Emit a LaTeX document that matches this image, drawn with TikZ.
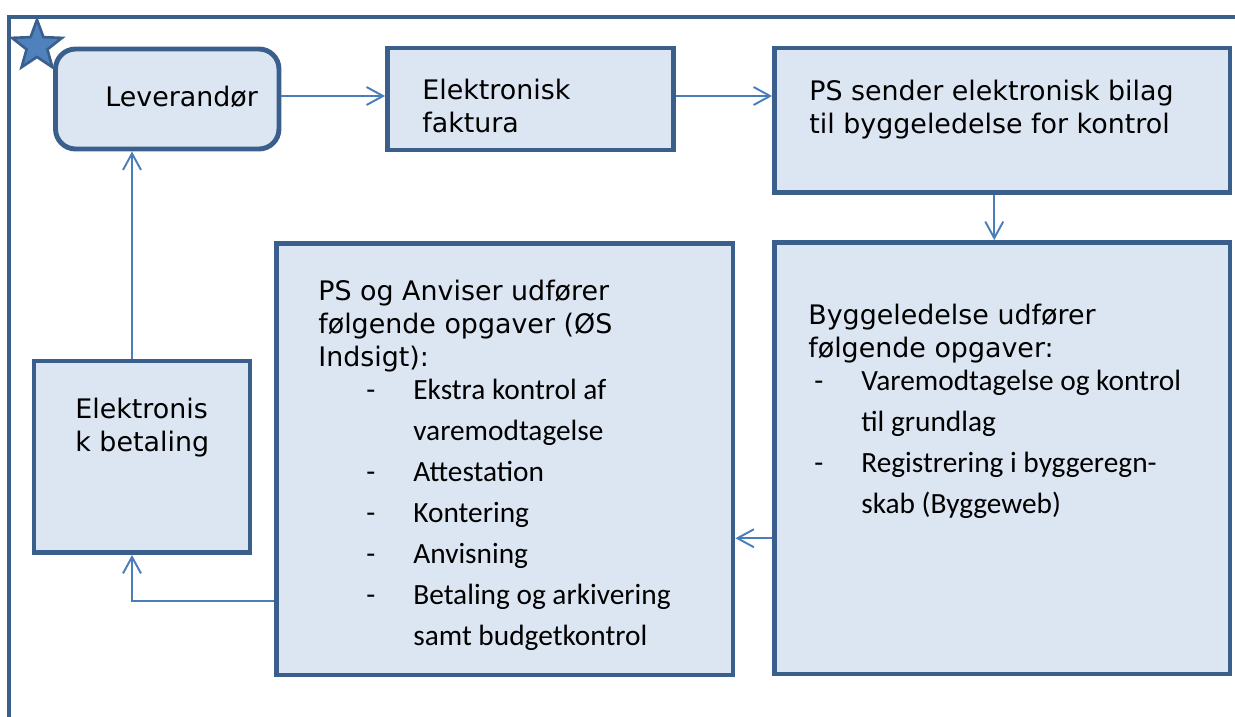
\documentclass[tikz,border=0pt]{standalone}
\usepackage{fontspec}
\setmainfont{DejaVu Sans}
\newfontfamily\itemfont{Carlito}
\usepackage{tikz}
\usetikzlibrary{arrows.meta}
\usetikzlibrary{shapes.geometric}

\definecolor{boxline}{HTML}{3A5F8D}
\definecolor{boxfill}{HTML}{DCE6F2}
\definecolor{linkline}{HTML}{4A7EBB}
\definecolor{starfill}{HTML}{4F81BD}

\newcommand{\listdash}{\makebox[0.94cm][l]{-}}
\newcommand{\listgap}{\hspace*{0.94cm}}

\tikzset{
  box/.style={draw=boxline, fill=boxfill, line width=2.8pt, rectangle, inner sep=0pt},
  roundbox/.style={box, rounded corners=0.4cm},
  heading/.style={anchor=base west, inner sep=0pt, align=left, font=\fontsize{15.3}{18.7}\selectfont},
  itemlist/.style={anchor=base west, inner sep=0pt, align=left, font=\itemfont\fontsize{16.7}{23.3}\selectfont},
  link/.style={draw=linkline, line width=1.1pt, -{Straight Barb[length=3.3mm,width=3.6mm]}},
}

\begin{document}
\begin{tikzpicture}[x=0.02cm, y=-0.02cm]
          \useasboundingbox (0,0) rectangle (1235,717);
          \draw [boxline, line width=2.8pt] (1235,17) -- (9,17) -- (9,717); % frame

          \node [roundbox, minimum width=4.47cm, minimum height=2cm] (lev) at (167.25,99) {};
          \node [box, minimum width=5.72cm, minimum height=2.04cm] (fak) at (530.5,99) {};
          \node [box, minimum width=9.11cm, minimum height=2.89cm] (sender) at (1002.25,120.25) {};

          \node [box, minimum width=4.32cm, minimum height=3.83cm] (betal) at (142,456.75) {};
          \node [box, minimum width=9.126cm, minimum height=8.64cm] (anviser) at (504.85,459) {};
          \node [box, minimum width=9.11cm, minimum height=8.63cm] (bygge) at (1002.25,458.25) {};

          \node [star, star points=5, star point ratio=2.4, minimum size=1.05cm, inner sep=0pt,
                 draw=boxline, fill=starfill, line width=1.5pt] (mark) at (37,46) {};

          % text nodes sit on the baseline of their last line
          \node [heading] (levtext) at (105,106) {Leverandør};
          \node [heading] (faktext) at (422,132) {Elektronisk\\faktura};
          \node [heading] (sendertext) at (809,133) {PS sender elektronisk bilag\\til byggeledelse for kontrol};
          \node [heading] (betaltext) at (75,451) {Elektronis\\k betaling};

          \node [heading] (anvisertext) at (318,366) {PS og Anviser udfører\\følgende opgaver (ØS\\Indsigt):};
          \node [itemlist] (anviserlist) at (366,645) {\listdash Ekstra kontrol af\\\listgap varemodtagelse\\\listdash Attestation\\\listdash Kontering\\\listdash Anvisning\\\listdash Betaling og arkivering\\\listgap samt budgetkontrol};

          \node [heading] (byggetext) at (808,357) {Byggeledelse udfører\\følgende opgaver:};
          \node [itemlist] (byggelist) at (814,513) {\listdash Varemodtagelse og kontrol\\\listgap til grundlag\\\listdash Registrering i byggeregn-\\\listgap skab (Byggeweb)};

          \draw [link] ([yshift=0.06cm]lev.east) to ([yshift=0.06cm]fak.west);
          \draw [link] ([yshift=0.06cm]fak.east) to ([yshift=0.06cm]fak.east -| sender.west);
          \draw [link] ([xshift=-0.16cm]sender.south) to ([xshift=-0.16cm]bygge.north);
          \draw [link] ([yshift=-1.6cm]bygge.west) to ([yshift=-1.6cm]bygge.west -| anviser.east);
          \draw [link] ([yshift=-2.84cm]anviser.west) -| ([xshift=-0.2cm]betal.south);
          \draw [link] ([xshift=-0.2cm]betal.north) to ([xshift=-0.2cm]betal.north |- lev.south);
\end{tikzpicture}
\end{document}
